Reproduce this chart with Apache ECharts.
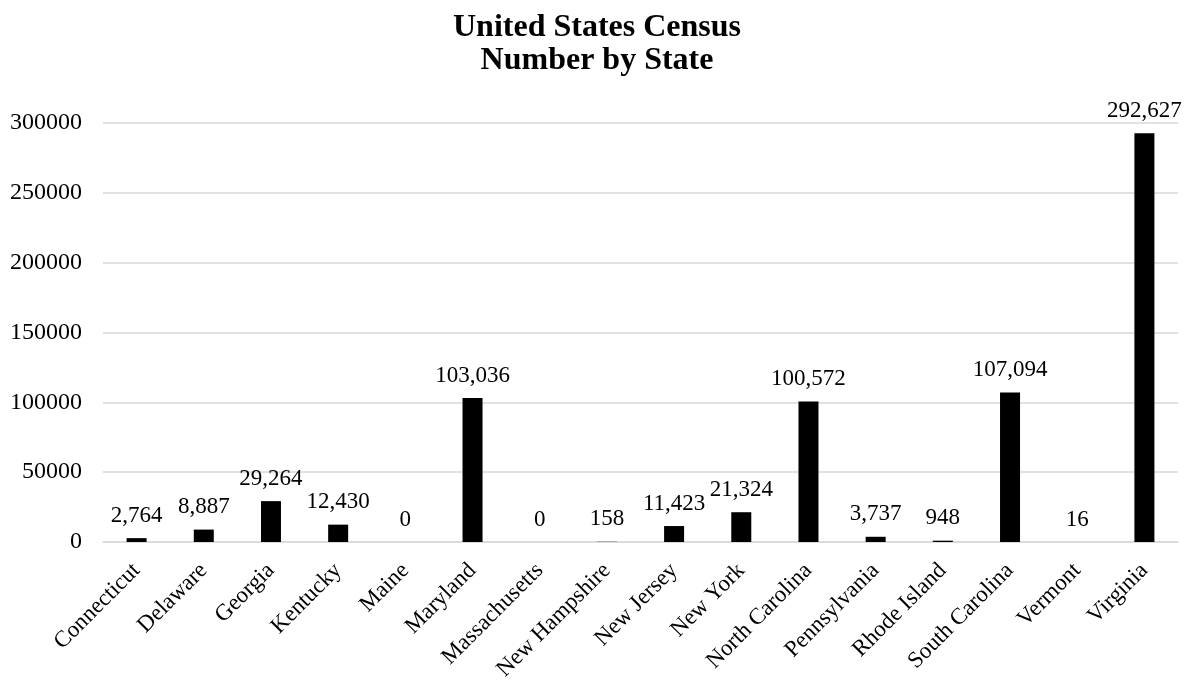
<!DOCTYPE html>
<html>
<head>
<meta charset="utf-8">
<script src="https://cdn.jsdelivr.net/npm/echarts@6/dist/echarts.min.js"></script>
<style>
html,body{margin:0;padding:0;background:#fff;}
#chart{width:1194px;height:685px;}
</style>
</head>
<body>
<div id="chart"></div>
<script>
const titleLines = ['United States Census', 'Number by State'];
const states = ['Connecticut','Delaware','Georgia','Kentucky','Maine','Maryland','Massachusetts','New Hampshire','New Jersey','New York','North Carolina','Pennsylvania','Rhode Island','South Carolina','Vermont','Virginia'];
const counts = [2764, 8887, 29264, 12430, 0, 103036, 0, 158, 11423, 21324, 100572, 3737, 948, 107094, 16, 292627];
const yMin = 0, yMax = 300000, yStep = 50000;

const serif = '"Liberation Serif", "Times New Roman", "DejaVu Serif", serif';
const chart = echarts.init(document.getElementById('chart'), null, {renderer: 'canvas'});
chart.setOption({
  backgroundColor: '#ffffff',
  animation: false,
  title: {
    text: titleLines.join('\n'),
    left: 'center',
    top: 6,
    textStyle: {fontFamily: serif, fontWeight: 'bold', fontSize: 32, lineHeight: 33, color: '#000'}
  },
  grid: {left: 103, right: 16, top: 123, bottom: 143, containLabel: false},
  xAxis: {
    type: 'category',
    data: states,
    axisLine: {show: true, lineStyle: {color: '#d9d9d9', width: 1.5}},
    axisTick: {show: false},
    axisLabel: {rotate: 45, interval: 0, margin: 25, fontFamily: serif, fontSize: 23, color: '#000'}
  },
  yAxis: {
    type: 'value',
    min: yMin, max: yMax, interval: yStep,
    axisLine: {show: false},
    axisTick: {show: false},
    splitLine: {lineStyle: {color: '#d9d9d9', width: 1.5}},
    axisLabel: {margin: 21, fontFamily: serif, fontSize: 24, color: '#000', formatter: v => String(v)}
  },
  series: [{
    type: 'bar',
    data: counts,
    barWidth: 20,
    itemStyle: {color: '#000'},
    label: {
      show: true,
      position: 'top',
      distance: 11,
      fontFamily: serif,
      fontSize: 23,
      color: '#000',
      formatter: p => Number(p.value).toLocaleString('en-US')
    }
  }]
});
</script>
</body>
</html>
